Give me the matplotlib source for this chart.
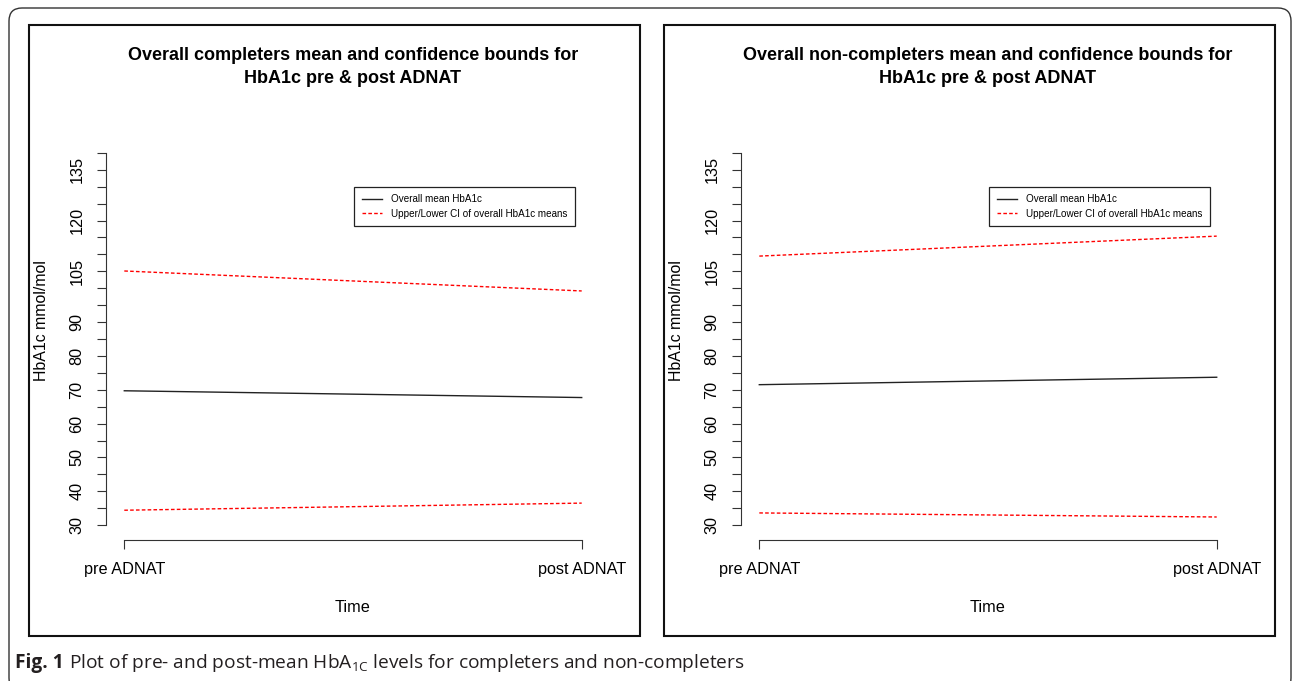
import matplotlib
matplotlib.use('Agg')
import matplotlib.pyplot as plt
from matplotlib.patches import Rectangle, FancyBboxPatch

W, H, DPI = 1292, 681, 100

# Valores (HbA1c mmol/mol)
time_labels = ['pre ADNAT', 'post ADNAT']
completers_mean = [69.7, 67.7]
completers_upper = [105.1, 99.2]
completers_lower = [34.4, 36.5]
noncompleters_mean = [71.5, 73.7]
noncompleters_upper = [109.5, 115.4]
noncompleters_lower = [33.6, 32.4]

y_ticks = list(range(30, 145, 5))
y_shown = [30, 40, 50, 60, 70, 80, 90, 105, 120, 135]

titles = ['Overall completers mean and confidence bounds for\nHbA1c pre & post ADNAT',
          'Overall non-completers mean and confidence bounds for\nHbA1c pre & post ADNAT']
legend_labels = ['Overall mean HbA1c', 'Upper/Lower CI of overall HbA1c means']

plt.rcParams['font.family'] = ['Liberation Sans', 'DejaVu Sans']


def fx(px):
    return px / W


def fy(py):
    return 1 - py / H


def draw_panel(fig, x0, title, mean, upper, lower):
    """x0: desplazamiento horizontal del panel en píxeles"""
    ax = fig.add_axes([fx(106 + x0), fy(540), 494 / W, 402 / H])
    x = [1, 2]
    ax.plot(x, mean, color='#222222', lw=1.0, label=legend_labels[0])
    ax.plot(x, upper, color='red', lw=1.0, dashes=(2.6, 1.6), label=legend_labels[1])
    ax.plot(x, lower, color='red', lw=1.0, dashes=(2.6, 1.6))

    ax.set_xlim(0.96, 2.04)
    ax.set_ylim(25.6, 144.4)
    for s in ['top', 'right']:
        ax.spines[s].set_visible(False)
    ax.spines['left'].set_bounds(30, 140)
    ax.spines['bottom'].set_bounds(1, 2)
    for s in ['left', 'bottom']:
        ax.spines[s].set_linewidth(0.8)
        ax.spines[s].set_color('#333333')

    ax.set_xticks(x)
    ax.set_xticklabels(time_labels, fontsize=11.7)
    ax.set_yticks(y_ticks)
    ax.set_yticklabels([str(v) if v in y_shown else '' for v in y_ticks],
                       rotation=90, va='center', fontsize=11.7)
    ax.tick_params(axis='both', length=6.5, width=0.8, color='#333333')
    ax.tick_params(axis='y', pad=9)
    ax.tick_params(axis='x', pad=9.5)

    ax.set_ylabel('HbA1c mmol/mol', fontsize=11.4)
    ax.yaxis.set_label_coords((49 - 106) / 494, (540 - 321) / 402)
    ax.set_xlabel('Time', fontsize=11.7)
    ax.xaxis.set_label_coords(0.5, (540 - 600) / 402)

    ax.text(0.5, (540 - 67) / 402, title, transform=ax.transAxes,
            ha='center', va='center', fontsize=13, fontweight='bold',
            linespacing=1.4)

    ax.legend(loc='upper right', bbox_to_anchor=(fx(575 + x0), fy(187)),
              bbox_transform=fig.transFigure, fontsize=7.1, frameon=True,
              fancybox=False, edgecolor='#222222', framealpha=1,
              borderaxespad=0, borderpad=0.75, handlelength=2.1,
              handletextpad=0.9, labelspacing=0.45).get_frame().set_linewidth(0.9)

    fig.add_artist(Rectangle((fx(29 + x0), fy(636)), 611 / W, 611 / H,
                             transform=fig.transFigure, fill=False,
                             edgecolor='#111111', lw=1.5))
    return ax


fig = plt.figure(figsize=(W / DPI, H / DPI), dpi=DPI)

# Marco redondeado exterior
fig.add_artist(FancyBboxPatch((9 / DPI, -10 / DPI), 1282 / DPI, 683 / DPI,
                              boxstyle='round,pad=0,rounding_size=0.13',
                              transform=fig.dpi_scale_trans, fill=False,
                              edgecolor='#333333', lw=1.0))

draw_panel(fig, 0, titles[0], completers_mean, completers_upper, completers_lower)
draw_panel(fig, 635, titles[1], noncompleters_mean, noncompleters_upper, noncompleters_lower)

# Pie de figura
cap_font = ['Open Sans', 'DejaVu Sans']
t1 = fig.text(fx(15), fy(668), 'Fig. 1', fontsize=13.8, fontweight='bold',
              family=cap_font, color='#231f20', va='baseline')
renderer = fig.canvas.get_renderer()
bb = t1.get_window_extent(renderer)
fig.text((bb.x1 + 5) / W, fy(668),
         r'Plot of pre- and post-mean HbA$_{\mathregular{1C}}$ levels for completers and non-completers',
         fontsize=13.8, family=cap_font, color='#231f20', va='baseline')

fig.savefig('out.png', dpi=DPI)
